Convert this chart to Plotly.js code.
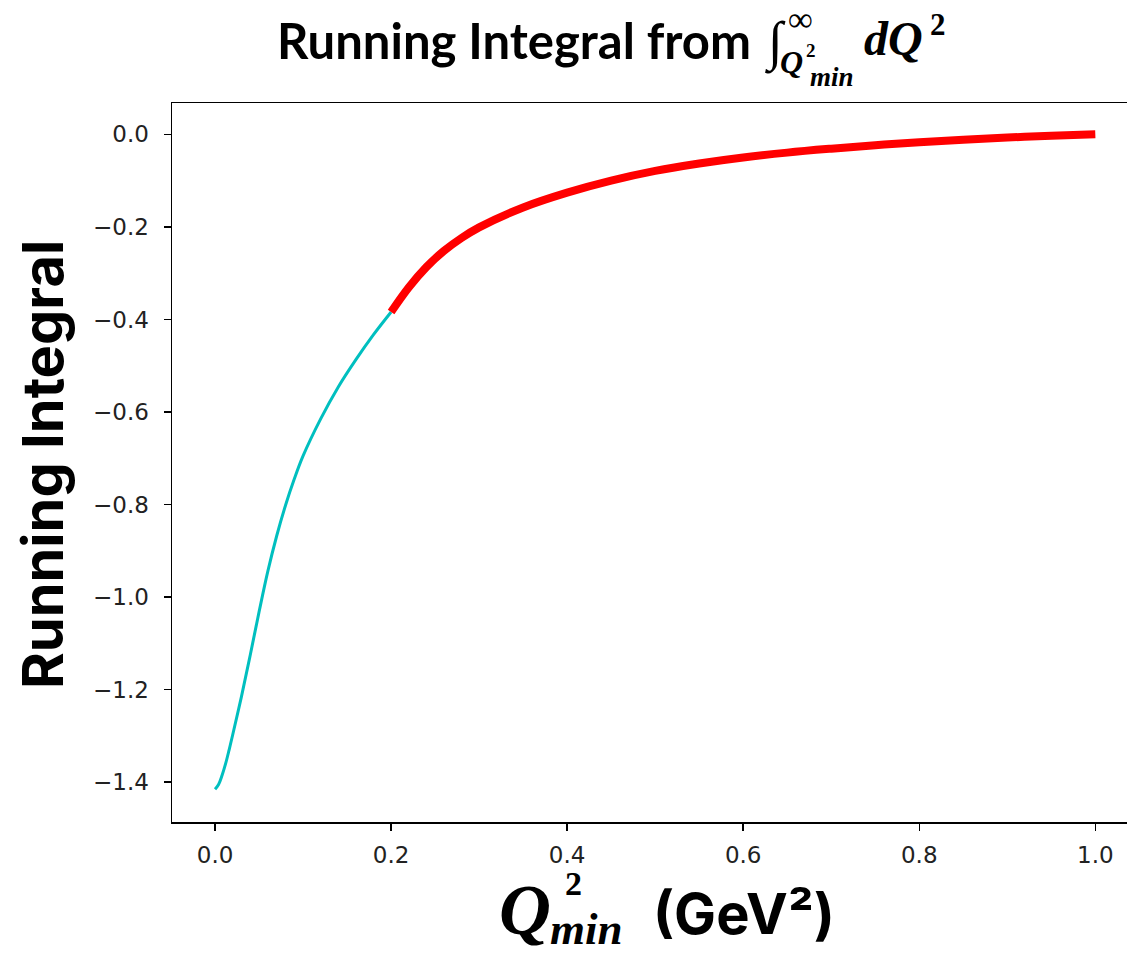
<!DOCTYPE html>
<html>
<head>
<meta charset="utf-8">
<script src="https://cdn.plot.ly/plotly-3.0.1.min.js"></script>
<style>
html, body { margin: 0; padding: 0; background: #fff; overflow: hidden; }
#chart { width: 1127px; height: 956px; }
</style>
</head>
<body>
<div id="chart"></div>
<script>
// Data
const q2Low = [0, 0.004, 0.008, 0.012, 0.016, 0.02, 0.03, 0.04, 0.05, 0.06, 0.07, 0.08, 0.09, 0.10, 0.12, 0.14, 0.16, 0.18, 0.20];
const integralLow = [-1.415, -1.405, -1.385, -1.36, -1.33, -1.298, -1.215, -1.125, -1.032, -0.944, -0.868, -0.802, -0.745, -0.695, -0.615, -0.546, -0.487, -0.433, -0.384];

const q2High = [0.2, 0.22, 0.24, 0.26, 0.28, 0.30, 0.35, 0.40, 0.45, 0.50, 0.55, 0.60, 0.65, 0.70, 0.75, 0.80, 0.85, 0.90, 0.95, 1.0];
const integralHigh = [-0.384, -0.331, -0.287, -0.252, -0.224, -0.201, -0.158, -0.126, -0.100, -0.079, -0.063, -0.050, -0.0395, -0.031, -0.0235, -0.017, -0.0115, -0.007, -0.0032, 0];

const xTicks = [0, 0.2, 0.4, 0.6, 0.8, 1.0];
const yTicks = [0, -0.2, -0.4, -0.6, -0.8, -1.0, -1.2, -1.4];

// Plot area in pixels
const W = 1127, H = 956;
const L = 172, R = 1127, T = 103, B = 822;
const px = x => (x - L) / (R - L);
const py = y => (B - y) / (B - T);

const traces = [
  {
    x: q2Low, y: integralLow, type: 'scatter', mode: 'lines',
    line: { color: '#00bfbf', width: 3, shape: 'spline', smoothing: 1 },
    hoverinfo: 'skip'
  },
  {
    x: q2High, y: integralHigh, type: 'scatter', mode: 'lines',
    line: { color: '#ff0000', width: 8, shape: 'spline', smoothing: 1 },
    hoverinfo: 'skip'
  }
];

const titleSans = 'Lato, "Liberation Sans", sans-serif';
const boldSans = 'Inter, "Liberation Sans", sans-serif';
const serif = '"Liberation Serif", "DejaVu Serif", serif';

function ann(text, x, y, size, family, opts) {
  return Object.assign({
    text: text, xref: 'paper', yref: 'paper', x: px(x), y: py(y),
    xanchor: 'left', yanchor: 'middle', showarrow: false, borderpad: 0,
    font: { size: size, family: family, color: '#000' }
  }, opts || {});
}

const annotations = [
  // Title
  ann('<b>Running Integral from</b>', 276, 40, 49, titleSans),
  ann('<i>∫</i>', 764, 42, 54, serif),
  ann('∞', 787, 19, 35, serif),
  ann('<b><i>Q</i></b>', 779, 62, 32, serif),
  ann('<b>2</b>', 805, 50, 19, serif),
  ann('<b><i>min</i></b>', 809, 77, 27, serif),
  ann('<b><i>dQ</i></b>', 863, 39, 48, serif),
  ann('<b>2</b>', 929, 24, 31, serif),
  // X axis title
  ann('<b><i>Q</i></b>', 498, 910, 72, serif),
  ann('<b>2</b>', 564, 884, 34, serif),
  ann('<b><i>min</i></b>', 549, 929, 45, serif),
  ann('<b>(GeV²)</b>', 652, 914, 56, boldSans),
  // Y axis title
  ann('<b>Running Integral</b>', 43, 465, 56, boldSans,
      { xanchor: 'center', textangle: -90 })
];

const tickFont = { family: '"DejaVu Sans", sans-serif', size: 23, color: '#222' };

const layout = {
  width: W, height: H,
  margin: { l: L, r: W - R, t: T, b: H - B, pad: 0 },
  paper_bgcolor: '#fff', plot_bgcolor: '#fff',
  showlegend: false,
  xaxis: {
    range: [-0.0489, 1.036],
    tickvals: xTicks, tickformat: '.1f',
    ticks: 'outside', ticklen: 7, tickwidth: 1.5, tickcolor: '#000',
    showline: true, linecolor: '#000', linewidth: 1.5, mirror: true,
    showgrid: false, zeroline: false,
    tickfont: tickFont, ticklabelstandoff: 5
  },
  yaxis: {
    range: [-1.486, 0.0677],
    tickvals: yTicks, tickformat: '.1f',
    ticks: 'outside', ticklen: 7, tickwidth: 1.5, tickcolor: '#000',
    showline: true, linecolor: '#000', linewidth: 1.5, mirror: false,
    showgrid: false, zeroline: false,
    tickfont: tickFont, ticklabelstandoff: 10
  },
  annotations: annotations
};

Plotly.newPlot('chart', traces, layout, { staticPlot: true, displayModeBar: false });
</script>
</body>
</html>
